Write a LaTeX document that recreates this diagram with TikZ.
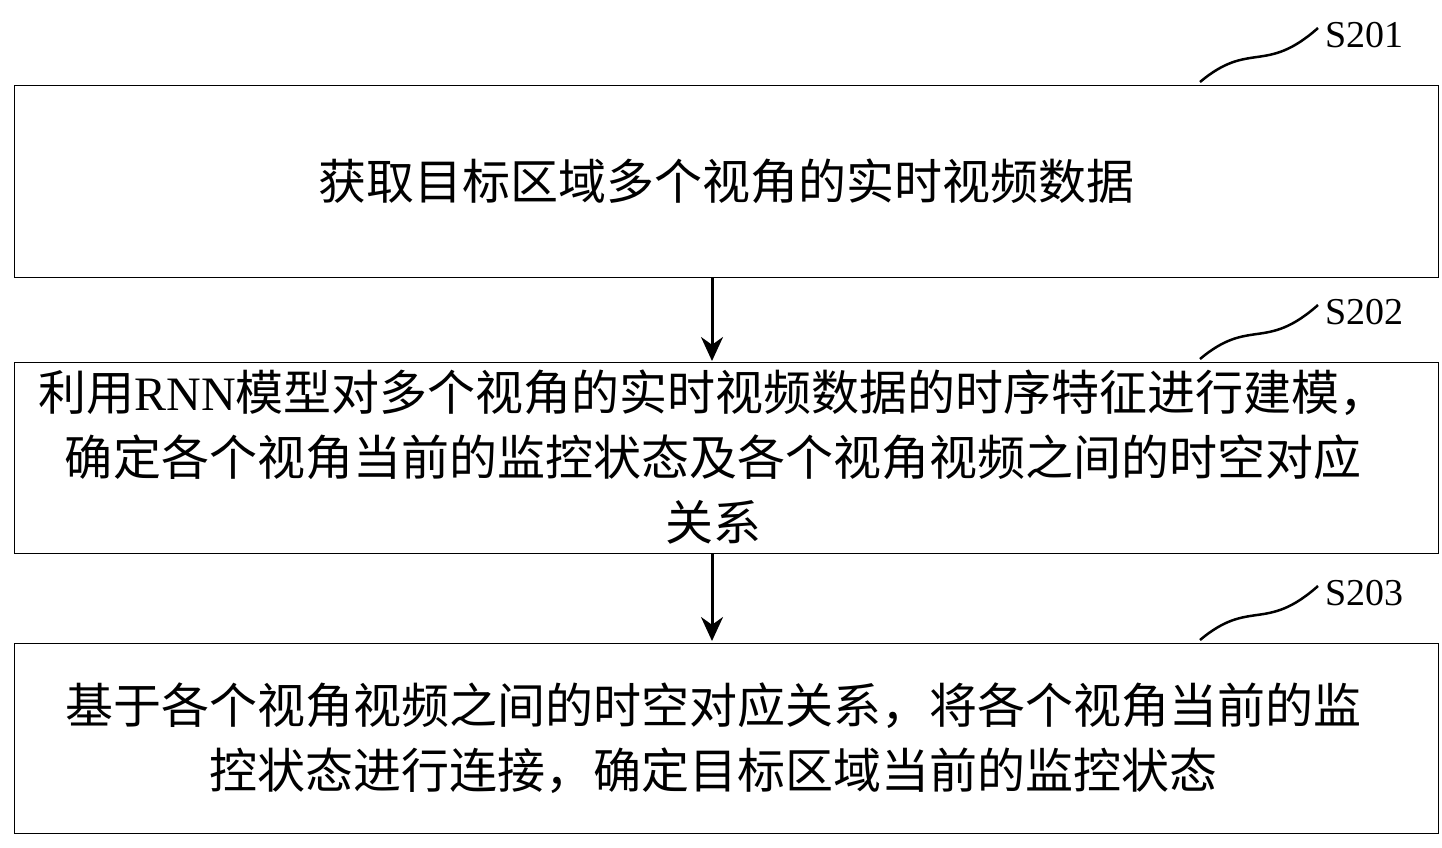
\documentclass[tikz,border=0pt]{standalone}
\usepackage{fontspec}
\usetikzlibrary{arrows.meta}
\newfontfamily\cjk{Noto Sans CJK SC}
\setmainfont{Liberation Serif}
\begin{document}
\begin{tikzpicture}[x=1pt,y=-1pt,
 box/.style={draw,line width=1pt,minimum width=1424pt,anchor=north west,inner sep=0pt},
 txt/.style={font=\cjk\fontsize{48}{65}\selectfont,align=center},
 lab/.style={font=\fontsize{38}{44}\selectfont,anchor=west},
 arr/.style={-{Stealth[length=24pt,width=22pt]},line width=3pt}]
\useasboundingbox (0,0) rectangle (1442,848);
\node[box,minimum height=192pt] (b1) at (14,85) {};
\node[box,minimum height=191pt] (b2) at (14,362) {};
\node[box,minimum height=190pt] (b3) at (14,643) {};
\node[txt] (t1) at (b1.center) {获取目标区域多个视角的实时视频数据};
\node[txt] (t2) at (713,457) {利用{\rmfamily RNN}模型对多个视角的实时视频数据的时序特征进行建模，\\确定各个视角当前的监控状态及各个视角视频之间的时空对应\\关系};
\node[txt] (t3) at (713,738) {基于各个视角视频之间的时空对应关系，将各个视角当前的监\\控状态进行连接，确定目标区域当前的监控状态};
\coordinate (a1) at (712,277); \coordinate (a2) at (712,361);
\coordinate (a3) at (712,553); \coordinate (a4) at (712,641);
\draw[arr] (a1) -- (a2);
\draw[arr] (a3) -- (a4);
\foreach \n/\y in {1/0,2/277,3/558}{
 \coordinate (s\n) at (1200,82+\y);
 \coordinate (e\n) at (1318,28+\y);
 \draw[line width=2.5pt] (s\n) .. controls (1250,40+\y) and (1265,75+\y) .. (e\n);
 \node[lab] (l\n) at (1322,35+\y) {S20\n};
}
\end{tikzpicture}
\end{document}
